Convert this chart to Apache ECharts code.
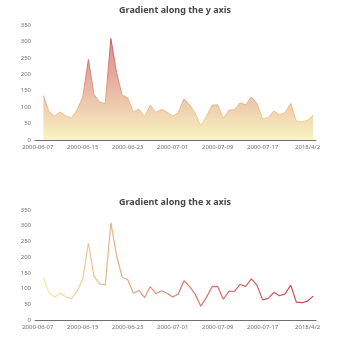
<!DOCTYPE html>
<html>
<head>
<meta charset="utf-8">
<script src="https://cdn.jsdelivr.net/npm/echarts@6/dist/echarts.min.js"></script>
<style>html,body{margin:0;padding:0;background:#fff}#c{width:350px;height:350px}</style>
</head>
<body>
<div id="c"></div>
<script>
const categories = [
  "2000-06-07","2000-06-08","2000-06-09","2000-06-10","2000-06-11","2000-06-12","2000-06-13","2000-06-14",
  "2000-06-15","2000-06-16","2000-06-17","2000-06-18","2000-06-19","2000-06-20","2000-06-21","2000-06-22",
  "2000-06-23","2000-06-24","2000-06-25","2000-06-26","2000-06-27","2000-06-28","2000-06-29","2000-06-30",
  "2000-07-01","2000-07-02","2000-07-03","2000-07-04","2000-07-05","2000-07-06","2000-07-07","2000-07-08",
  "2000-07-09","2000-07-10","2000-07-11","2000-07-12","2000-07-13","2000-07-14","2000-07-15","2000-07-16",
  "2000-07-17","2000-07-18","2000-07-19","2000-07-20","2000-07-21","2000-07-22","2000-07-23","2000-07-24",
  "2018/4/2","2018/4/3"
];
const values = [
  null,
  135, 86, 73, 85, 73, 68, 92, 130,
  245, 139, 115, 111, 309, 206, 137, 128,
  85, 94, 71, 106, 84, 93, 85, 73,
  83, 125, 107, 82, 44, 72, 106, 107,
  66, 91, 92, 113, 107, 131, 111, 64,
  69, 88, 77, 83, 111, 57, 55, 60,
  76
];
const titles = ["Gradient along the y axis", "Gradient along the x axis"];
const yTicks = { min: 0, max: 350, interval: 50 };

const FONT = "'Noto Sans', sans-serif";
const axisColor = '#6E7079';

function xAxisCfg(gridIndex) {
  return {
    type: 'category',
    gridIndex: gridIndex,
    data: categories,
    boundaryGap: true,
    axisLine: { lineStyle: { color: axisColor, width: 1 } },
    axisTick: { interval: 7, length: 3, lineStyle: { color: axisColor } },
    axisLabel: { interval: 7, fontSize: 6, margin: 4, color: axisColor, fontFamily: FONT }
  };
}
function yAxisCfg(gridIndex) {
  return {
    type: 'value',
    gridIndex: gridIndex,
    min: yTicks.min, max: yTicks.max, interval: yTicks.interval,
    splitLine: { show: false },
    axisLabel: { fontSize: 6, margin: 4, color: axisColor, fontFamily: FONT }
  };
}

const chart = echarts.init(document.getElementById('c'), null, { renderer: 'canvas' });
chart.setOption({
  animation: false,
  visualMap: [
    { show: false, type: 'continuous', seriesIndex: 0, min: 0, max: 400,
      inRange: { color: ['#f6efa6', '#d88273', '#bf444c'] } },
    { show: false, type: 'continuous', seriesIndex: 1, dimension: 0, min: 0, max: categories.length - 1,
      inRange: { color: ['#f6efa6', '#d88273', '#bf444c'] } }
  ],
  title: [
    { left: 'center', top: 1, text: titles[0],
      textStyle: { fontSize: 9, fontWeight: 'bold', color: '#464646', fontFamily: FONT } },
    { left: 'center', top: '55%', text: titles[1],
      textStyle: { fontSize: 9, fontWeight: 'bold', color: '#464646', fontFamily: FONT } }
  ],
  grid: [
    { left: 35, right: 34, top: 25, bottom: 210 },
    { left: 35, right: 34, top: 210, bottom: 30 }
  ],
  xAxis: [xAxisCfg(0), xAxisCfg(1)],
  yAxis: [yAxisCfg(0), yAxisCfg(1)],
  series: [
    { type: 'line', showSymbol: false, data: values, lineStyle: { width: 1 }, areaStyle: {} },
    { type: 'line', showSymbol: false, data: values, xAxisIndex: 1, yAxisIndex: 1, lineStyle: { width: 1.2 } }
  ]
});
</script>
</body>
</html>
